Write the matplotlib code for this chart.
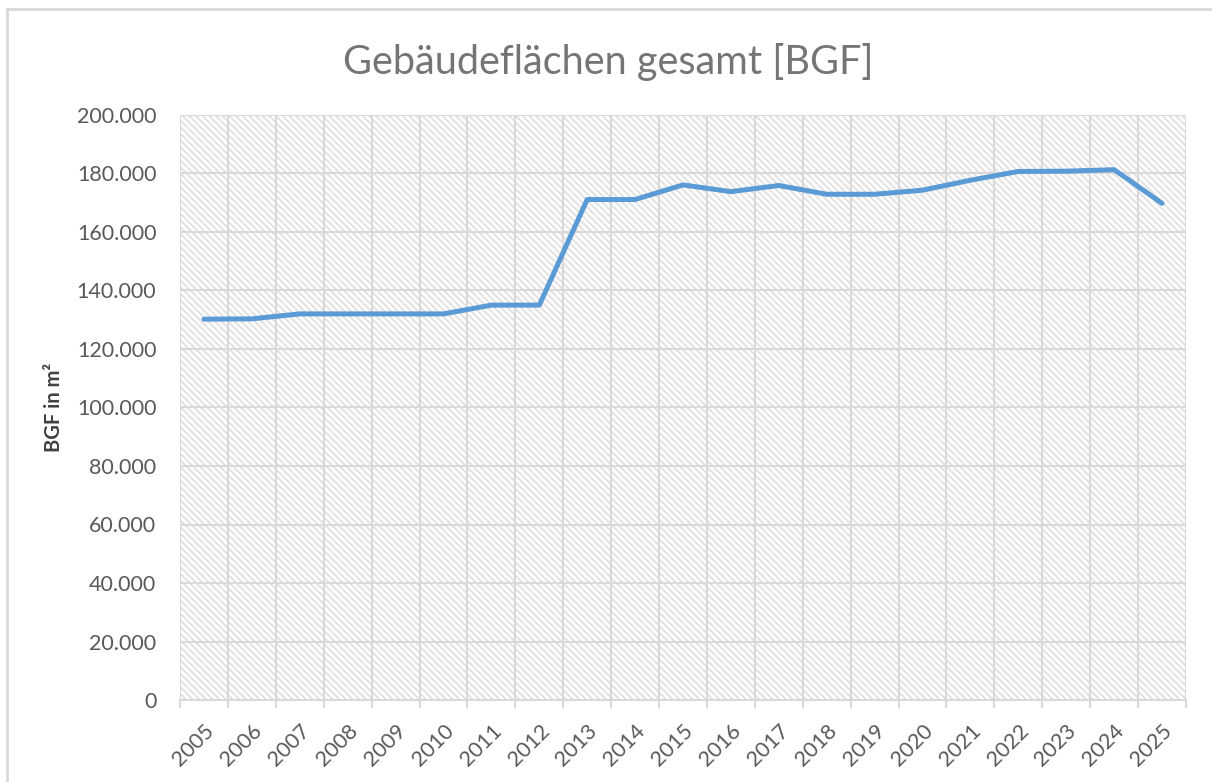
import matplotlib
matplotlib.use("Agg")
import matplotlib.pyplot as plt
from matplotlib.patches import Rectangle
from matplotlib.lines import Line2D
from matplotlib.ticker import FuncFormatter, MultipleLocator

years = [str(y) for y in range(2005, 2026)]
bgf = [130200, 130300, 132000, 132000, 132000, 132000, 135000, 135000,
       171100, 171100, 176100, 173800, 175900, 172900, 172900, 174300,
       177700, 180700, 180800, 181300, 169800]

title = "Gebäudeflächen gesamt [BGF]"
ylabel = "BGF in m²"

plt.rcParams['font.family'] = ['Lato', 'DejaVu Sans']
plt.rcParams['hatch.linewidth'] = 1.3
text_gray = '#595959'
grid_gray = '#d9d9d9'

fig = plt.figure(figsize=(12.12, 7.82), dpi=100)
ax = fig.add_axes([180/1212, 1-700/782, (1186-180)/1212, (700-115)/782])

# hatched background
bg = Rectangle((0, 0), 1, 1, transform=ax.transAxes, facecolor='white',
               edgecolor='#e0e0e0', hatch='\\' * 5, linewidth=0, zorder=0)
ax.add_patch(bg)

x = list(range(len(years)))
ax.plot(x, bgf, color='#5b9bd5', lw=3.6, solid_capstyle='round',
        solid_joinstyle='round', zorder=3)

ax.set_xlim(-0.5, len(years) - 0.5)
ax.set_ylim(0, 200000)
ax.yaxis.set_major_locator(MultipleLocator(20000))
ax.yaxis.set_major_formatter(FuncFormatter(lambda v, p: f"{int(v):,}".replace(",", ".")))

# vertical grid at category boundaries
for b in [i - 0.5 for i in range(len(years) + 1)]:
    ax.axvline(b, color=grid_gray, lw=1.5, zorder=1)
ax.grid(axis='y', color=grid_gray, lw=1.5, zorder=1)
ax.set_axisbelow(True)

for s in ['top', 'right', 'left']:
    ax.spines[s].set_visible(False)
ax.spines['bottom'].set_color(grid_gray)
ax.spines['bottom'].set_linewidth(1.5)
ax.spines['bottom'].set_zorder(2)

ax.set_xticks(x)
ax.set_xticklabels(years, rotation=45, ha='right', va='top',
                   rotation_mode='anchor', fontsize=15.5, color=text_gray)
ax.tick_params(axis='x', length=0, pad=15)
ax.set_xticks([i - 0.5 for i in range(len(years) + 1)], minor=True)
ax.tick_params(axis='x', which='minor', length=6, width=1.5, color=grid_gray)
ax.tick_params(axis='y', length=0, labelsize=15.5, labelcolor=text_gray, pad=17)

ax.set_ylabel(ylabel, fontsize=14.5, fontweight='bold', color='#404040', labelpad=9)

fig.text(0.5015, 1-62/782, title, ha='center', va='center', fontsize=28.5,
         color='#757575')

# partial outer frame
fig.add_artist(Line2D([7/1212, 1], [1-9/782, 1-9/782], transform=fig.transFigure,
                      color=grid_gray, lw=2))
fig.add_artist(Line2D([7/1212, 7/1212], [0, 1-9/782], transform=fig.transFigure,
                      color=grid_gray, lw=2))

fig.savefig("out.png", dpi=100, facecolor='white')
